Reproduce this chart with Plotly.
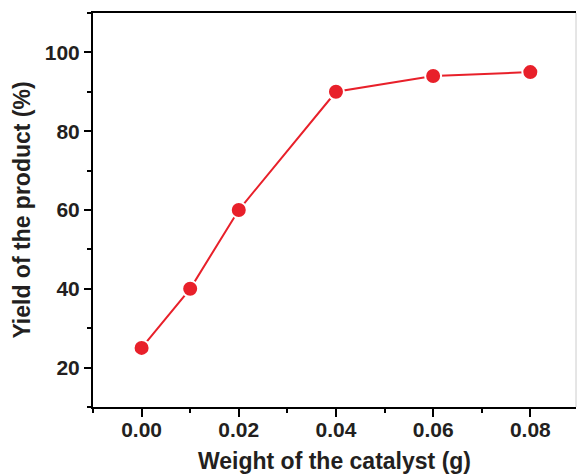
import plotly.graph_objects as go

catalyst_weight = [0.00, 0.01, 0.02, 0.04, 0.06, 0.08]
yield_pct = [25, 40, 60, 90, 94, 95]

x_ticks = [0.00, 0.02, 0.04, 0.06, 0.08]
x_tick_labels = ["0.00", "0.02", "0.04", "0.06", "0.08"]
y_ticks = [20, 40, 60, 80, 100]

RED = "#e8202a"
TXT = "#231f20"
FONT = "Liberation Sans, Arial, sans-serif"

fig = go.Figure()
fig.add_trace(go.Scatter(
    x=catalyst_weight, y=yield_pct, mode="lines+markers",
    line=dict(color=RED, width=2),
    marker=dict(size=16, color=RED, line=dict(color="white", width=2)),
    showlegend=False,
))

fig.update_layout(
    width=577, height=475,
    margin=dict(l=93, r=1, t=13, b=68, autoexpand=False),
    plot_bgcolor="white", paper_bgcolor="white",
    font=dict(family=FONT, color=TXT, size=21),
)
fig.update_xaxes(
    range=[-0.01, 0.0894], automargin=False,
    tickvals=x_ticks, ticktext=x_tick_labels,
    ticks="outside", ticklen=8, tickwidth=2, tickcolor="black",
    ticklabelstandoff=-5,
    minor=dict(dtick=0.01, tick0=-0.01, ticks="outside", ticklen=4, tickwidth=2, tickcolor="black"),
    showline=True, linecolor="black", linewidth=2, mirror=True,
    showgrid=False, zeroline=False,
    tickfont=dict(family=FONT, size=21, color=TXT, weight="bold"),
    title=dict(text="Weight of the catalyst (g)", standoff=13,
               font=dict(family=FONT, size=23, color=TXT, weight="bold")),
)
fig.update_yaxes(
    range=[10, 110], automargin=False,
    tickvals=y_ticks,
    ticks="outside", ticklen=7, tickwidth=2, tickcolor="black",
    minor=dict(dtick=10, tick0=10, ticks="outside", ticklen=4, tickwidth=2, tickcolor="black"),
    showline=True, linecolor="black", linewidth=2, mirror=False,
    showgrid=False, zeroline=False,
    tickfont=dict(family=FONT, size=21, color=TXT, weight="bold"),
    title=dict(text="Yield of the product (%)", standoff=8,
               font=dict(family=FONT, size=23, color=TXT, weight="bold")),
)
fig.add_shape(type="line", xref="paper", yref="paper", x0=1, x1=1, y0=0, y1=1,
              line=dict(color="#cccccc", width=1))

fig.write_html("out.html", config={"displayModeBar": False},
               post_script="document.body.style.margin='0';")
